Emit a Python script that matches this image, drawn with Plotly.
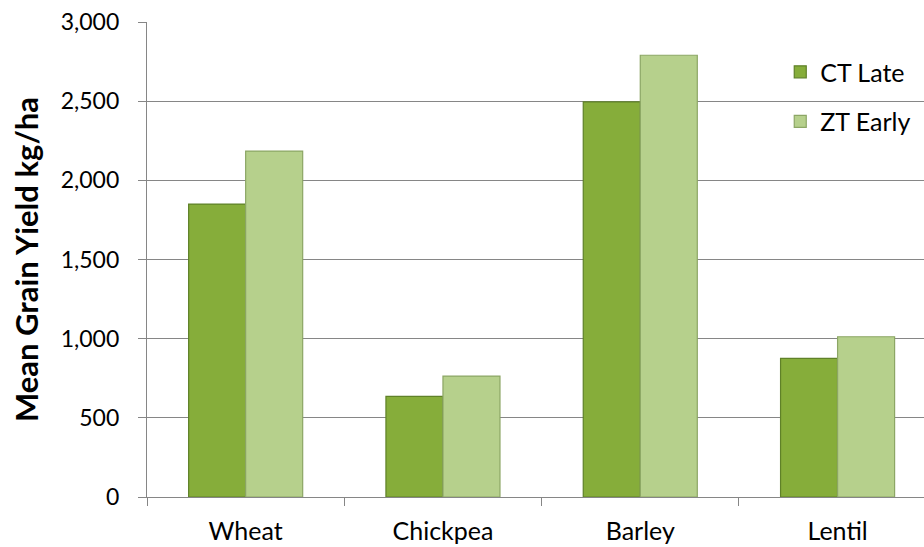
import plotly.graph_objects as go

categories = ["Wheat", "Chickpea", "Barley", "Lentil"]
ct_late = [1850, 635, 2495, 876]
zt_early = [2185, 764, 2790, 1012]
y_ticks = [0, 500, 1000, 1500, 2000, 2500, 3000]
y_tick_labels = ["0", "500", "1,000", "1,500", "2,000", "2,500", "3,000"]

FONT = "Lato"

fig = go.Figure()
fig.add_trace(go.Bar(
    x=categories, y=ct_late, name="CT Late", legendgroup="a",
    marker=dict(color="#86AD3A", line=dict(color="#5F8128", width=1.2)),
))
fig.add_trace(go.Bar(
    x=categories, y=zt_early, name="ZT Early", legendgroup="b",
    marker=dict(color="#B6D08C", line=dict(color="#8CA665", width=1.2)),
))

fig.update_layout(
    width=924, height=547,
    margin=dict(l=147, r=0, t=22, b=50),
    paper_bgcolor="white", plot_bgcolor="white",
    barmode="group", bargap=0.422, bargroupgap=0,
    font=dict(family=FONT, size=22, color="#000000"),
    showlegend=True,
    legend=dict(
        x=0.815, y=0.943, xanchor="left", yanchor="top",
        bgcolor="rgba(0,0,0,0)", font=dict(family=FONT, size=25, color="#000000"),
        traceorder="grouped", tracegroupgap=14, itemwidth=30,
    ),
    xaxis=dict(
        range=[-0.5, 3.438], showgrid=False, automargin=False,
        showline=True, linecolor="#868686", linewidth=1.3,
        ticks="outside", tickson="boundaries", ticklen=8, tickcolor="#868686", tickwidth=1.3,
        tickfont=dict(family=FONT, size=25, color="#000000"),
        ticklabelstandoff=12,
    ),
    yaxis=dict(
        range=[0, 3000], tickvals=y_ticks, ticktext=y_tick_labels, automargin=False,
        showgrid=True, gridcolor="#868686", gridwidth=1.3,
        showline=True, linecolor="#868686", linewidth=1.3,
        ticks="outside", ticklen=8, tickcolor="#868686", tickwidth=1.3,
        tickfont=dict(family=FONT, size=23, color="#000000"),
        ticklabelstandoff=14,
        zeroline=False,
        title=dict(text="<b>Mean Grain Yield kg/ha</b>", font=dict(family=FONT, size=31, color="#000000"), standoff=12),
    ),
)

fig.write_html("out.html")
